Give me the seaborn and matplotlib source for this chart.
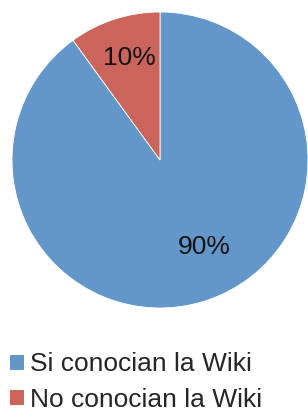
import matplotlib
matplotlib.use("Agg")
import matplotlib.pyplot as plt
import seaborn as sns
from matplotlib.patches import Patch

categories = ["Si conocian la Wiki", "No conocian la Wiki"]
values = [90, 10]
colors = ["#6397CA", "#CB655B"]

sns.set_theme(style="white")
plt.rcParams["font.family"] = ["Liberation Sans", "DejaVu Sans"]

W, H = 308, 412
fig = plt.figure(figsize=(W / 100, H / 100), dpi=100)
fig.patch.set_facecolor("white")
cx, cy, r = 160, 160, 148
ax = fig.add_axes([(cx - r) / W, (H - cy - r) / H, 2 * r / W, 2 * r / H])
wedges, texts, autotexts = ax.pie(
    values, colors=colors, startangle=90, counterclock=False,
    autopct=lambda p: f"{p:.0f}%", pctdistance=0.7,
    wedgeprops=dict(linewidth=0.6, edgecolor="white"),
    textprops=dict(fontsize=19, color="#111111"),
)
autotexts[0].set_position((0.30, -0.59))
autotexts[1].set_position((-0.21, 0.69))
ax.set_xlim(-1, 1)
ax.set_ylim(-1, 1)
ax.set_aspect("equal")
ax.axis("off")

handles = [Patch(facecolor=c, edgecolor="none") for c in colors]
fig.legend(handles, categories, loc="upper left",
           bbox_to_anchor=(-8 / W, 1 - 334 / H), frameon=False,
           fontsize=19, handlelength=0.5, handleheight=0.5,
           handletextpad=0.25, labelspacing=0.42, borderpad=0.2)

fig.savefig("out.png", dpi=100)
